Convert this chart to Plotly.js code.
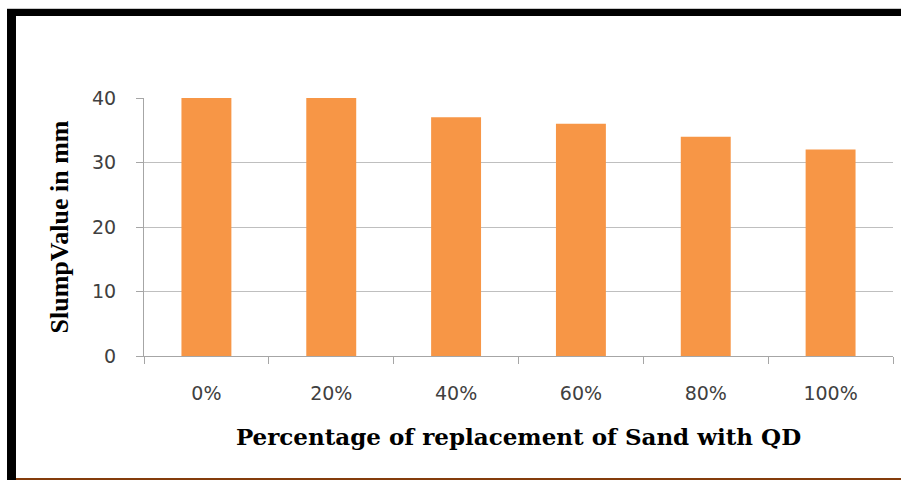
<!DOCTYPE html>
<html>
<head>
<meta charset="utf-8">
<script src="https://cdn.plot.ly/plotly-3.0.1.min.js"></script>
<style>
  html, body { margin: 0; padding: 0; background: #ffffff; }
  #chart { width: 901px; height: 480px; }
</style>
</head>
<body>
<div id="chart"></div>
<script>
// Data
const categories = ["0%", "20%", "40%", "60%", "80%", "100%"];
const slumpValues = [40, 40, 37, 36, 34, 32];
const yTickValues = [0, 10, 20, 30, 40];

const xTitle = "Percentage of replacement of Sand with QD";
const yTitle = "SlumpValue in mm";

const trace = {
  type: "bar",
  x: categories,
  y: slumpValues,
  marker: { color: "#F79646", line: { width: 0 } },
  hoverinfo: "x+y"
};

const layout = {
  width: 901,
  height: 480,
  margin: { l: 144, r: 8, t: 98, b: 124 },
  paper_bgcolor: "#ffffff",
  plot_bgcolor: "#ffffff",
  showlegend: false,
  bargap: 0.6,
  xaxis: {
    type: "category",
    showline: true,
    linecolor: "#a6a6a6",
    linewidth: 1,
    ticks: "outside",
    tickson: "boundaries",
    ticklen: 7,
    tickcolor: "#a6a6a6",
    ticklabelstandoff: 20,
    showgrid: false,
    zeroline: false,
    tickfont: { family: "DejaVu Sans", size: 19, color: "#404040" },
    title: {
      text: xTitle,
      font: { family: "DejaVu Serif", size: 23, color: "#000000", weight: "bold" },
      standoff: 26
    },
    automargin: false
  },
  yaxis: {
    range: [0, 40],
    tickvals: yTickValues,
    showline: true,
    linecolor: "#a6a6a6",
    linewidth: 1,
    ticks: "outside",
    ticklen: 7,
    tickcolor: "#a6a6a6",
    ticklabelstandoff: 16,
    showgrid: true,
    gridcolor: "#bfbfbf",
    gridwidth: 1,
    zeroline: false,
    tickfont: { family: "DejaVu Sans", size: 19, color: "#404040" },
    title: {
      text: yTitle,
      font: { family: "Liberation Serif", size: 26, color: "#000000", weight: "bold" },
      standoff: 15
    },
    automargin: false
  },
  shapes: [
    // top black frame band
    { type: "rect", xref: "paper", yref: "paper", x0: -0.1829, x1: 1.02, y0: 1.3178, y1: 1.345,
      fillcolor: "#000000", line: { width: 0 }, layer: "below" },
    // thin grey line above top band
    { type: "line", xref: "paper", yref: "paper", x0: -0.1829, x1: 1.02, y0: 1.347, y1: 1.347,
      line: { color: "#c8c8c8", width: 1 }, layer: "below" },
    // left black frame band
    { type: "rect", xref: "paper", yref: "paper", x0: -0.1829, x1: -0.1709, y0: -0.49, y1: 1.345,
      fillcolor: "#000000", line: { width: 0 }, layer: "below" },
    // bottom brown line
    { type: "rect", xref: "paper", yref: "paper", x0: -0.1709, x1: 1.02, y0: -0.4806, y1: -0.4729,
      fillcolor: "#843c0c", line: { width: 0 }, layer: "below" }
  ]
};

Plotly.newPlot("chart", [trace], layout, { displayModeBar: false, staticPlot: true });
</script>
</body>
</html>
